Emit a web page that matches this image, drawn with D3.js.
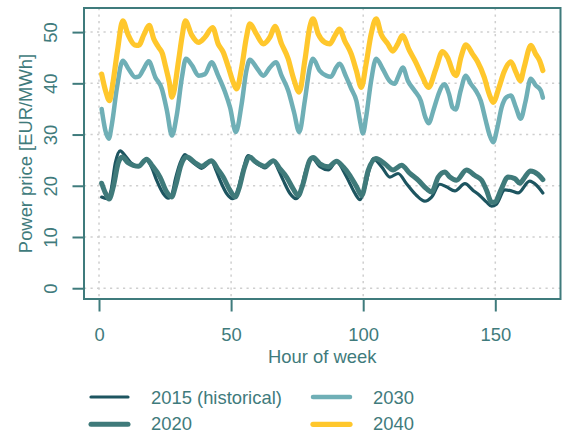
<!DOCTYPE html>
<html><head><meta charset="utf-8">
<script src="https://cdn.jsdelivr.net/npm/d3@7"></script>
<style>
html,body{margin:0;padding:0;background:#fff;}
svg{display:block;font-family:"Liberation Sans",Arial,sans-serif;}
</style></head>
<body>
<svg id="chart" width="569" height="434"></svg>
<script>
// ---- data ----
const seriesNames = ["2015 (historical)", "2020", "2030", "2040"];
const seriesColors = ["#1d5560", "#3f7a7a", "#6fafb6", "#ffc72c"];
const seriesWidths = [3.2, 5, 4.5, 5.2];

const hours2015 = [1,3,4.5,6.2,8,10,12,14.9,18,20,21.8,24.3,26.2,27.5,29,30.6,32.5,34.5,36.9,38.8,42.6,44.3,45.8,48.3,50.5,52,54,56.5,58.5,61.5,62.8,66,68,69.7,72.3,74.5,76,78,80.5,83.6,86.8,89.9,92.4,95,96.9,98.8,100.7,102.5,103.8,107,110.1,113.2,116.4,120.2,123.3,125.9,129,131.5,134.7,138.5,141.6,144.1,146.7,148.6,150.4,153.6,156.1,158.6,163,165.6,168];
const price2015 = [17.8,17.5,19,24.5,26.8,25.8,24.5,23.8,25.1,23.5,21.1,18.5,17.6,18.2,21.5,24.3,26.1,25,24.0,23.4,24.8,23,21.1,18.5,17.5,18.3,22,25.9,24.8,23.8,23.5,24.9,23,21.1,18.5,17.5,18.3,22.5,25.5,23.7,23.1,24.8,23.0,20.4,18.5,17.3,19.8,23.5,25.3,23.7,21.7,22.4,20.4,18.1,17.0,17.8,20.3,19.8,19.0,20.4,19.1,18.1,16.8,16.0,16.4,19.2,19.0,18.6,20.9,20.1,18.6];

const hours2020 = [1,2.5,3.8,5.5,7.3,8.8,11,13,14.9,18,20,23.1,25.6,27.5,29,31,33.2,36.9,38.8,42.6,45,47,49.6,51.5,53,55,57.1,59,61.5,62.8,66,68.5,71,73.5,75.4,77,79.8,81.1,83.6,86.8,89.9,92.4,95,97.5,99.4,101.9,104.8,108.2,111.3,114.5,117.7,120.8,124,125.9,128.4,130.9,132.8,135.3,139.1,142.3,144.8,146.7,148.6,149.8,152.3,154.8,157.4,159.3,161.2,163.3,166.2,168];
const price2020 = [20.5,18.5,17.4,20,24.5,25.6,24.5,24,23.8,25.2,24,21.7,18.8,17.8,20,24,25.6,24.3,23.8,24.9,23.2,21.7,19.1,17.8,19.5,23.5,25.6,24.8,24.0,23.8,24.9,23.3,21.7,19.4,18.1,20,25.0,25.5,24.3,23.7,24.8,23.7,22.0,19.8,18.1,23.0,25.3,24.3,23.1,24.0,22.4,21.1,19.4,18.8,21.7,22.7,21.7,21.1,23.1,22.0,21.1,19.1,16.8,16.8,19.4,21.7,21.4,20.5,21.7,22.9,22.2,21.2];

const hours2030 = [1,2.4,3.7,4.9,6.8,9,11.2,13.7,15,16.9,18.8,21.3,23.8,25.7,27.6,29.5,31.4,32.9,35.2,37.7,40.1,42.6,45.1,47.7,49.6,51.8,54,55.8,57.1,59.6,62.2,64.7,67,69.1,71.6,73.8,75.8,77.9,79.8,81,83.5,86,87.8,89.8,91,93.6,95.5,97.4,99,99.9,101.1,103,104.9,107.4,109.9,111.9,113.4,115,116.9,119.4,121.8,123.5,124.7,126.9,128.8,130.7,132.5,133.8,135,136.9,138.8,140.7,142.6,144.5,146.4,147.9,149.2,150.8,152.4,154.3,155.9,157.8,159.6,161.5,163.4,165.3,167.2,168];
const price2030 = [35.0,30.8,29.2,32.1,39.2,44.4,42.8,41.2,41.3,42.8,44.3,41.2,38.9,34.7,29.8,34.0,41.2,44.8,43.5,41.5,41.8,44.1,41.5,38.3,35.3,30.5,36.0,42.5,44.6,43.1,41.5,43.1,44.1,41.5,38.6,34.4,30.5,36.6,43.1,44.8,42.5,41.5,41.3,43.1,43.8,41.2,38.9,36.6,32.1,30.2,33.4,40.5,44.8,42.8,40.5,39.9,41.5,43.1,40.5,38.6,36.6,33.4,32.2,35.3,38.3,39.8,37.9,35.3,34.9,38.6,41.5,39.9,38.6,36.6,32.7,29.8,28.5,31.4,35.3,37.3,37.6,35.3,33.1,36.6,40.9,39.6,38.6,37.2];

const hours2040 = [1,2.5,4,5,7,9,11,13.5,15,17,19,20.7,22.6,24,25.1,26.6,27.6,30.1,31.4,32.7,35,37.7,40.1,43,45.1,47,49,50.8,52.1,54,55.8,57.1,59.6,62.2,64.7,66.6,69.1,71.6,73.5,75.8,77.9,79.8,81,83,85.4,87.3,89.3,91,93,95.5,97.4,99.3,101.1,103,104.9,106.8,109.3,111.2,113.1,114.8,117.5,120,122.5,124.7,127.5,130,131.9,134.4,135.2,137,138.9,141.4,143.3,145.8,147.7,149.2,151.4,153.3,155.9,157.8,159.5,160.9,163.5,165.3,166.8,168];
const price2040 = [41.8,38.5,36.6,39.2,46.4,52.2,49.5,47.5,47.4,49.5,51.3,48.7,47.0,45.8,43.5,40.2,37.3,44.4,49,52.2,49.5,48,49,50.9,47.7,46.1,43.1,40.2,38.9,43.1,49,51.6,49.6,47.7,49,51.1,47.7,44.8,41.2,38.3,44.4,51,52.6,49.6,48.0,47.7,49.3,50.6,48.3,45.7,42.5,39.2,43.8,49.6,52.6,49.6,47.7,46.3,47.7,49.3,46.4,44.0,41.2,39.2,42.8,46.2,45.1,41.8,41.5,45.1,47.5,45.7,44.2,41.2,37.9,36.3,39.2,42.2,44.2,42.2,40.5,43.1,47.4,45.7,44.4,42.5];

const xTicks = [0, 50, 100, 150];
const yTicks = [0, 10, 20, 30, 40, 50];
const xTitle = "Hour of week";
const yTitle = "Power price [EUR/MWh]";

// ---- layout ----
const svg = d3.select("#chart");
const axisColor = "#3f7b7c";
const box = {left: 84, right: 560.5, top: 8, bottom: 299};
const fontSize = 18.4;

const series = [
  {hours: hours2015, price: price2015},
  {hours: hours2020, price: price2020},
  {hours: hours2030, price: price2030},
  {hours: hours2040, price: price2040}
].map((s, i) => ({name: seriesNames[i], color: seriesColors[i], width: seriesWidths[i],
  points: s.hours.map((h, j) => [h, s.price[j]])}));

const allH = series.flatMap(s => s.points.map(p => p[0]));
const allP = series.flatMap(s => s.points.map(p => p[1])).concat([0]);
const [hMin, hMax] = d3.extent(allH);
const [pMin, pMax] = d3.extent(allP);
const padX = (hMax - hMin) * 0.04, padY = (pMax - pMin) * 0.04;

const x = d3.scaleLinear().domain([hMin - padX, hMax + padX]).range([box.left, box.right]);
const y = d3.scaleLinear().domain([pMin - padY, pMax + padY]).range([box.bottom, box.top]);

// grid
const grid = svg.append("g").attr("stroke", "#cfcfcf").attr("stroke-width", 1.5)
  .attr("stroke-dasharray", "2.2,4.3");
grid.selectAll(".gx").data(xTicks).enter().append("line")
  .attr("x1", d => x(d)).attr("x2", d => x(d)).attr("y1", box.top).attr("y2", box.bottom);
grid.selectAll(".gy").data(yTicks).enter().append("line")
  .attr("y1", d => y(d)).attr("y2", d => y(d)).attr("x1", box.left).attr("x2", box.right);

// lines
const line = d3.line().x(d => x(d[0])).y(d => y(d[1])).curve(d3.curveMonotoneX);
const plot = svg.append("g");
plot.selectAll("path").data(series).enter().append("path")
  .attr("d", d => line(d.points))
  .attr("fill", "none")
  .attr("stroke", d => d.color)
  .attr("stroke-width", d => d.width)
  .attr("stroke-linejoin", "round")
  .attr("stroke-linecap", "round");

// box
svg.append("rect").attr("x", box.left).attr("y", box.top)
  .attr("width", box.right - box.left).attr("height", box.bottom - box.top)
  .attr("fill", "none").attr("stroke", axisColor).attr("stroke-width", 2);

// axes
const xAxis = svg.append("g").attr("transform", `translate(0,${box.bottom})`)
  .call(d3.axisBottom(x).tickValues(xTicks).tickSize(12.5).tickSizeOuter(0).tickFormat(d3.format("d")));
const yAxis = svg.append("g").attr("transform", `translate(${box.left},0)`)
  .call(d3.axisLeft(y).tickValues(yTicks).tickSize(11.5).tickSizeOuter(0).tickFormat(d3.format("d")));
[xAxis, yAxis].forEach(a => {
  a.select(".domain").remove();
  a.selectAll(".tick line").attr("stroke", axisColor).attr("stroke-width", 2);
  a.selectAll(".tick text").attr("fill", axisColor).style("font-size", fontSize + "px")
    .style("font-family", "'Liberation Sans', Arial, sans-serif");
});
xAxis.selectAll(".tick text").attr("y", 41.5).attr("dy", 0);
yAxis.selectAll(".tick text").attr("transform", "rotate(-90)")
  .attr("x", 0).attr("y", -27).attr("dy", 0).attr("text-anchor", "middle");

// titles
svg.append("text").attr("x", (box.left + box.right) / 2).attr("y", 362.5)
  .attr("text-anchor", "middle").attr("fill", axisColor).style("font-size", fontSize + "px")
  .text(xTitle);
svg.append("text").attr("transform", `translate(32,${(box.top + box.bottom) / 2}) rotate(-90)`)
  .attr("text-anchor", "middle").attr("fill", axisColor).style("font-size", fontSize + "px")
  .text(yTitle);

// legend
const legendCols = [91, 313];
const legendRows = [397, 424.3];
const legendTextY = [404.2, 430];
const legend = svg.append("g");
series.forEach((s, i) => {
  const col = Math.floor(i / 2), row = i % 2;
  const lx = legendCols[col], ly = legendRows[row];
  legend.append("line").attr("x1", lx).attr("x2", lx + 37).attr("y1", ly).attr("y2", ly)
    .attr("stroke", s.color).attr("stroke-width", s.width).attr("stroke-linecap", "round");
  legend.append("text").attr("x", lx + 60).attr("y", legendTextY[row])
    .attr("fill", axisColor).style("font-size", fontSize + "px").text(s.name);
});
</script>
</body></html>
